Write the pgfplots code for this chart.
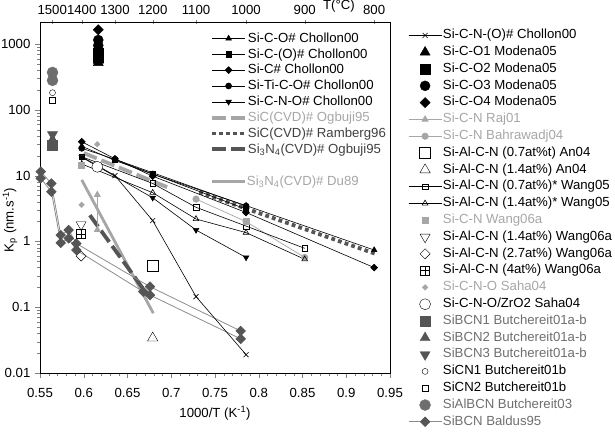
\documentclass[border=0pt]{standalone}
\usepackage{pgfplots}
\pgfplotsset{compat=1.18}
\usepackage{fontspec}
\setmainfont{Liberation Sans}
\definecolor{lg}{HTML}{A6A6A6}
\definecolor{mg}{HTML}{6E6E6E}
\definecolor{dg}{HTML}{555555}
\definecolor{tg}{HTML}{404040}
\definecolor{bl}{HTML}{8C8C8C}
\pgfdeclareplotmark{boxplus}{%
  \pgfpathrectangle{\pgfqpoint{-\pgfplotmarksize}{-\pgfplotmarksize}}{\pgfqpoint{2\pgfplotmarksize}{2\pgfplotmarksize}}%
  \pgfpathmoveto{\pgfqpoint{-\pgfplotmarksize}{0pt}}\pgfpathlineto{\pgfqpoint{\pgfplotmarksize}{0pt}}%
  \pgfpathmoveto{\pgfqpoint{0pt}{-\pgfplotmarksize}}\pgfpathlineto{\pgfqpoint{0pt}{\pgfplotmarksize}}%
  \pgfusepathqstroke}
\pgfplotsset{legend image code/.code={\draw[mark repeat=2,mark phase=2,#1] plot coordinates {(0pt,0pt) (16.5pt,0pt) (33pt,0pt)};}}
\newcommand\st{\rule[-3pt]{0pt}{9.5pt}}
\begin{document}
\fontsize{13.2}{15.8}\selectfont
\begin{tikzpicture}[font=\fontsize{13.2}{15.8}\selectfont]
\useasboundingbox (-40pt,-61pt) rectangle (575pt,373pt);
% ---------------- main axis with data and top-left legend
\begin{axis}[scale only axis, width=350pt, height=351pt, xmin=0.55, xmax=0.95,
  ymode=log, ymin=0.01, ymax=2160, at={(0pt,0pt)}, anchor=south west,
  /pgf/number format/assume math mode=true, legend cell align=left,
  xtick={0.55,0.6,0.65,0.7,0.75,0.8,0.85,0.9,0.95},
  xticklabels={0.55,0.6,0.65,0.7,0.75,0.8,0.85,0.9,0.95},
  minor x tick num=4,
  ytick={0.01,0.1,1,10,100,1000}, yticklabels={0.01,0.1,1,10,100,1000},
  xtick pos=bottom, ytick pos=left, tick align=outside,
  major tick length=5pt, minor tick length=3pt,
  xticklabel style={yshift=-6pt},
  xlabel={1000/T (K\textsuperscript{-1})},
  ylabel={K\textsubscript{p} (nm.s\textsuperscript{-1})},
  x label style={at={(axis description cs:0.5,-0.114)}, anchor=center},
  y label style={at={(axis description cs:-0.0857,0.436)}, anchor=center},
  legend style={at={(0.4857,0.973)}, anchor=north west, draw=none, fill=none, inner sep=0pt,
    row sep=2.3pt, nodes={inner sep=1pt},
    /tikz/every even column/.append style={column sep=6pt}},
]
% CVD reference lines
\addplot[forget plot, lg, line width=2.8pt] coordinates {(0.5977,8.6) (0.6795,0.081)};
\addplot[forget plot, dg, line width=3.8pt, dash pattern=on 14pt off 5pt] coordinates {(0.607,2.5) (0.672,0.16)};
\addplot[forget plot, lg, line width=3.8pt, dash pattern=on 14pt off 5pt] coordinates {(0.60,22) (0.70,6.3)};
\addplot[forget plot, dg, line width=3.8pt, dash pattern=on 3.8pt off 3.2pt] coordinates {(0.732,5.6) (0.933,0.65)};
% Baldus95
\addplot[forget plot, bl, line width=0.8pt, mark=square*, mark size=3.3pt, mark options={rotate=45, fill=dg, draw=dg}] coordinates {(0.5508,11.5) (0.563,7.6) (0.5737,1.25) (0.5828,1.49) (0.5915,0.93) (0.6757,0.205) (0.7794,0.0435)};
\addplot[forget plot, bl, line width=0.8pt, mark=square*, mark size=3.3pt, mark options={rotate=45, fill=dg, draw=dg}] coordinates {(0.5508,9.1) (0.563,5.7) (0.5737,0.95) (0.5828,1.11) (0.5915,0.74) (0.668,0.172) (0.6757,0.153) (0.7794,0.033)};
% grey series
\addplot[forget plot, lg, line width=0.7pt, mark=triangle*, mark size=3.5pt] coordinates {(0.6155,5.1) (0.6155,1.5)};
\addplot[forget plot, lg, line width=0.7pt, mark=*, mark size=3.2pt] coordinates {(0.7283,4.4) (0.7855,2.0) (0.8525,0.57)};
% Wang05
\addplot[forget plot, black, line width=0.6pt, mark=square, mark size=2.8pt, mark options={fill=white}] coordinates {(0.5977,19.4) (0.6788,7.6) (0.7283,3.3) (0.7855,1.71) (0.8525,0.785)};
\addplot[forget plot, black, line width=0.6pt, mark=triangle, mark size=3.3pt, mark options={fill=white}] coordinates {(0.5977,15) (0.6788,5.5) (0.7283,2.19) (0.7855,1.36) (0.8525,0.535)};
% Si-C-N-O# Chollon00
\addplot[forget plot, black, line width=0.6pt, mark=triangle*, mark size=3.2pt, mark options={rotate=180}] coordinates {(0.5977,19) (0.6788,4.6) (0.7283,1.49) (0.7855,0.57)};
\addplot[forget plot, only marks, lg, mark=square*, mark size=3pt] coordinates {(0.5976,14.5) (0.7855,2.05)};
\addplot[forget plot, only marks, lg, mark=square*, mark size=2pt, mark options={rotate=45}] coordinates {(0.6155,30) (0.5975,3.6)};
% other Chollon00
\addplot[forget plot, black, line width=0.6pt, mark=x, mark size=3.5pt] coordinates {(0.5977,19.4) (0.6357,10) (0.6788,2.07) (0.7283,0.145) (0.7855,0.019)};
\addplot[forget plot, black, line width=0.6pt, mark=triangle*, mark size=3.2pt] coordinates {(0.5977,28) (0.6357,17) (0.6788,10.5) (0.7855,3.5) (0.9319,0.74)};
\addplot[forget plot, black, line width=0.6pt, mark=square*, mark size=2.6pt] coordinates {(0.6357,17.5) (0.6788,10.6) (0.7855,3.1)};
\addplot[forget plot, black, line width=0.6pt, mark=square*, mark size=2.4pt, mark options={rotate=45}] coordinates {(0.5977,32.7) (0.6357,18) (0.6788,9.8) (0.7855,2.75) (0.9319,0.40)};
\addplot[forget plot, black, line width=0.6pt, mark=*, mark size=3pt] coordinates {(0.5977,26) (0.6357,17.7) (0.7855,3.45)};
% Modena05
\addplot[forget plot, only marks, black, mark=triangle*, mark size=5.8pt] coordinates {(0.6166,560) (0.6166,520)};
\addplot[forget plot, only marks, black, mark=square*, mark size=5pt] coordinates {(0.6166,720) (0.6166,640)};
\addplot[forget plot, only marks, black, mark=*, mark size=5pt] coordinates {(0.6166,1150) (0.6166,950) (0.6166,820)};
\addplot[forget plot, only marks, black, mark=square*, mark size=3.6pt, mark options={rotate=45}] coordinates {(0.6166,1650)};
% An04, Wang06a, Saha04
\addplot[forget plot, only marks, black, mark=square, mark size=5.5pt, mark options={fill=white}] coordinates {(0.6788,0.42)};
\addplot[forget plot, only marks, black, mark=triangle, mark size=6pt, mark options={fill=white}] coordinates {(0.6788,0.034)};
\addplot[forget plot, only marks, black, mark=triangle, mark size=5.8pt, mark options={rotate=180, fill=white}] coordinates {(0.597,1.8)};
\addplot[forget plot, only marks, black, mark=square, mark size=3.6pt, mark options={rotate=45, fill=white}] coordinates {(0.597,0.6)};
\addplot[forget plot, only marks, black, mark=boxplus, mark size=4.5pt] coordinates {(0.597,1.3)};
\addplot[forget plot, only marks, black, mark=*, mark size=5.5pt, mark options={fill=white}] coordinates {(0.6155,13.6)};
% Butchereit
\addplot[forget plot, only marks, dg, mark=triangle*, mark size=5.8pt, mark options={rotate=180}] coordinates {(0.5643,42)};
\addplot[forget plot, only marks, dg, mark=triangle*, mark size=5.8pt] coordinates {(0.5643,35)};
\addplot[forget plot, only marks, dg, mark=square*, mark size=5pt] coordinates {(0.5643,29)};
\addplot[forget plot, only marks, black, mark=*, mark size=3pt, mark options={fill=white}] coordinates {(0.5643,182)};
\addplot[forget plot, only marks, black, mark=square, mark size=3pt, mark options={fill=white}] coordinates {(0.5643,141)};
\addplot[forget plot, only marks, mg, mark=*, mark size=5.5pt] coordinates {(0.5643,370) (0.5643,280)};
% legend (top-left)
\addlegendimage{black, line width=0.6pt, mark=triangle*, mark size=3.2pt}
\addlegendentry{\st Si-C-O\# Chollon00}
\addlegendimage{black, line width=0.6pt, mark=square*, mark size=2.6pt}
\addlegendentry{\st Si-C-(O)\# Chollon00}
\addlegendimage{black, line width=0.6pt, mark=square*, mark size=2.4pt, mark options={rotate=45}}
\addlegendentry{\st Si-C\# Chollon00}
\addlegendimage{black, line width=0.6pt, mark=*, mark size=3pt}
\addlegendentry{\st Si-Ti-C-O\# Chollon00}
\addlegendimage{black, line width=0.6pt, mark=triangle*, mark size=3.2pt, mark options={rotate=180}}
\addlegendentry{\st Si-C-N-O\# Chollon00}
\addlegendimage{lg, line width=3.8pt, dash pattern=on 14pt off 5pt}
\addlegendentry{\st\textcolor{lg}{SiC(CVD)\# Ogbuji95}}
\addlegendimage{dg, line width=3.8pt, dash pattern=on 3.8pt off 3.2pt}
\addlegendentry{\st\textcolor{tg}{SiC(CVD)\# Ramberg96}}
\addlegendimage{dg, line width=3.8pt, dash pattern=on 14pt off 5pt}
\addlegendentry{\st\textcolor{tg}{Si\textsubscript{3}N\textsubscript{4}(CVD)\# Ogbuji95}}
\end{axis}
% ---------------- top temperature axis (also holds the Du89 legend row)
\begin{axis}[scale only axis, width=350pt, height=351pt, xmin=0.55, xmax=0.95,
  ymode=log, ymin=0.01, ymax=2160, at={(0pt,0pt)}, anchor=south west,
  /pgf/number format/assume math mode=true, clip=false,
  axis x line*=top, axis y line=none,
  xtick={0.5640,0.5977,0.6357,0.6788,0.7283,0.7855,0.8525,0.9319},
  xticklabels={1500,1400,1300,1200,1100,1000,900,800},
  tick align=center, major tick length=5pt, minor tick num=0,
  legend cell align=left,
  legend style={at={(0.4857,0.5655)}, anchor=north west, draw=none, fill=none, inner sep=0pt,
    nodes={inner sep=1pt},
    /tikz/every even column/.append style={column sep=6pt}},
]
\addplot[draw=none, forget plot] coordinates {(0.6,1)};
\addlegendimage{lg, line width=2.8pt}
\addlegendentry{\st\textcolor{lg}{Si\textsubscript{3}N\textsubscript{4}(CVD)\# Du89}}
\node at (axis description cs:0.854,1.044) {T(°C)};
\end{axis}
% ---------------- right legend
\begin{axis}[scale only axis, width=350pt, height=351pt, xmin=0.55, xmax=0.95,
  ymode=log, ymin=0.01, ymax=2160, at={(0pt,0pt)}, anchor=south west,
  hide axis, legend cell align=left,
  legend style={at={(1.0514,0.983)}, anchor=north west, draw=none, fill=none, inner sep=0pt,
    row sep=2.3pt, nodes={inner sep=1pt, text height=9.5pt, text depth=3pt},
    /tikz/every even column/.append style={column sep=2pt}},
]
\addplot[draw=none, forget plot] coordinates {(0.6,1)};
\addlegendimage{black, line width=0.6pt, mark=x, mark size=3.5pt}
\addlegendentry{Si-C-N-(O)\# Chollon00}
\addlegendimage{only marks, black, mark=triangle*, mark size=5.8pt}
\addlegendentry{Si-C-O1 Modena05}
\addlegendimage{only marks, black, mark=square*, mark size=5pt}
\addlegendentry{Si-C-O2 Modena05}
\addlegendimage{only marks, black, mark=*, mark size=5pt}
\addlegendentry{Si-C-O3 Modena05}
\addlegendimage{only marks, black, mark=square*, mark size=3.6pt, mark options={rotate=45}}
\addlegendentry{Si-C-O4 Modena05}
\addlegendimage{lg, line width=0.7pt, mark=triangle*, mark size=3.5pt}
\addlegendentry{\textcolor{lg}{Si-C-N Raj01}}
\addlegendimage{lg, line width=0.7pt, mark=*, mark size=3.2pt}
\addlegendentry{\textcolor{lg}{Si-C-N Bahrawadj04}}
\addlegendimage{only marks, black, mark=square, mark size=5.5pt, mark options={fill=white}}
\addlegendentry{Si-Al-C-N (0.7at\%t) An04}
\addlegendimage{only marks, black, mark=triangle, mark size=6pt, mark options={fill=white}}
\addlegendentry{Si-Al-C-N (1.4at\%) An04}
\addlegendimage{black, line width=0.6pt, mark=square, mark size=2.8pt, mark options={fill=white}}
\addlegendentry{Si-Al-C-N (0.7at\%)* Wang05}
\addlegendimage{black, line width=0.6pt, mark=triangle, mark size=3.3pt, mark options={fill=white}}
\addlegendentry{Si-Al-C-N (1.4at\%)* Wang05}
\addlegendimage{only marks, lg, mark=square*, mark size=3pt}
\addlegendentry{\textcolor{lg}{Si-C-N Wang06a}}
\addlegendimage{only marks, black, mark=triangle, mark size=5.8pt, mark options={rotate=180, fill=white}}
\addlegendentry{Si-Al-C-N (1.4at\%) Wang06a}
\addlegendimage{only marks, black, mark=square, mark size=3.6pt, mark options={rotate=45, fill=white}}
\addlegendentry{Si-Al-C-N (2.7at\%) Wang06a}
\addlegendimage{only marks, black, mark=boxplus, mark size=4.5pt}
\addlegendentry{Si-Al-C-N (4at\%) Wang06a}
\addlegendimage{only marks, lg, mark=square*, mark size=2pt, mark options={rotate=45}}
\addlegendentry{\textcolor{lg}{Si-C-N-O Saha04}}
\addlegendimage{only marks, black, mark=*, mark size=5.5pt, mark options={fill=white}}
\addlegendentry{Si-C-N-O/ZrO2 Saha04}
\addlegendimage{only marks, dg, mark=square*, mark size=5pt}
\addlegendentry{\textcolor{mg}{SiBCN1 Butchereit01a-b}}
\addlegendimage{only marks, dg, mark=triangle*, mark size=5.8pt}
\addlegendentry{\textcolor{mg}{SiBCN2 Butchereit01a-b}}
\addlegendimage{only marks, dg, mark=triangle*, mark size=5.8pt, mark options={rotate=180}}
\addlegendentry{\textcolor{mg}{SiBCN3 Butchereit01a-b}}
\addlegendimage{only marks, black, mark=*, mark size=3pt, mark options={fill=white}}
\addlegendentry{SiCN1 Butchereit01b}
\addlegendimage{only marks, black, mark=square, mark size=3pt, mark options={fill=white}}
\addlegendentry{SiCN2 Butchereit01b}
\addlegendimage{only marks, mg, mark=*, mark size=5.5pt}
\addlegendentry{\textcolor{mg}{SiAlBCN Butchereit03}}
\addlegendimage{bl, line width=0.8pt, mark=square*, mark size=3.3pt, mark options={rotate=45, fill=dg, draw=dg}}
\addlegendentry{\textcolor{mg}{SiBCN Baldus95}}
\end{axis}
\end{tikzpicture}
\end{document}
